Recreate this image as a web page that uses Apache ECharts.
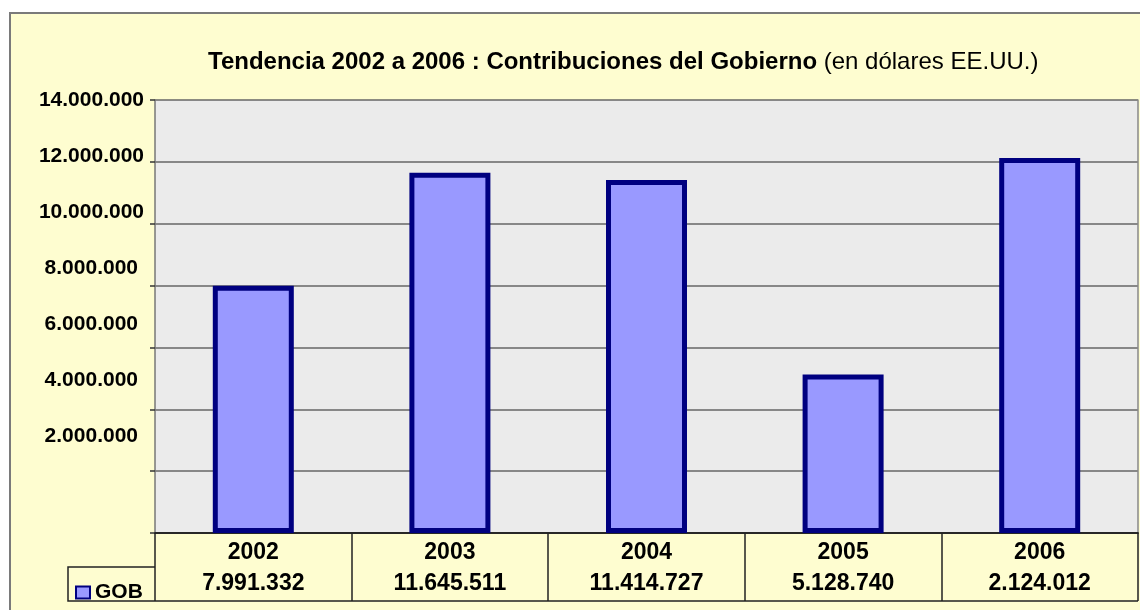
<!DOCTYPE html>
<html>
<head>
<meta charset="utf-8">
<script src="https://cdn.jsdelivr.net/npm/echarts@6/dist/echarts.min.js"></script>
<style>
  html, body { margin: 0; padding: 0; background: #fff; }
  #chart { width: 1140px; height: 610px; }
</style>
</head>
<body>
<div id="chart"></div>
<script>
const years = ['2002', '2003', '2004', '2005', '2006']
const gobValues = [7991332, 11645511, 11414727, 5128740, 12124012]
// texts printed in the data table (as in the original, incl. 2006)
const tableValues = ['7.991.332', '11.645.511', '11.414.727', '5.128.740', '2.124.012']
const yMax = 14000000
const yStep = 2000000

const fmt = v => String(v).replace(/\B(?=(\d{3})+(?!\d))/g, '.')
const font = 'Arial, "Liberation Sans", sans-serif'

const chart = echarts.init(document.getElementById('chart'))
chart.setOption({
  backgroundColor: '#ffffff',
  textStyle: { fontFamily: font },
  title: {
    text: '{b|Tendencia 2002 a 2006 : Contribuciones del Gobierno}{n| (en dólares EE.UU.)}',
    left: 203,
    top: 45,
    textStyle: {
      rich: {
        b: { fontFamily: font, fontWeight: 'bold', fontSize: 24, color: '#000' },
        n: { fontFamily: font, fontWeight: 'normal', fontSize: 24, color: '#000' }
      }
    }
  },
  graphic: [
    {
      type: 'rect', z: -10, silent: true,
      shape: { x: 10, y: 13, width: 1140, height: 610 },
      style: { fill: '#fefdd0', stroke: '#7a7a7a', lineWidth: 2 }
    },
    {
      type: 'polyline', z: 10, silent: true,
      shape: { points: [[155, 567], [68, 567], [68, 601], [1138, 601]] },
      style: { stroke: '#222', lineWidth: 1.5, fill: null }
    }
  ],
  legend: {
    left: 70,
    top: 577,
    itemWidth: 14,
    itemHeight: 12,
    itemGap: 5,
    icon: 'rect',
    itemStyle: { borderWidth: 2, borderColor: '#000080' },
    textStyle: { fontFamily: font, fontWeight: 'bold', fontSize: 21, color: '#000', padding: [5, 0, 0, 0] },
    data: ['GOB']
  },
  grid: [
    { left: 155, right: 2, top: 100, bottom: 77, show: true, backgroundColor: '#ebebeb', borderWidth: 0 },
    { left: 155, right: 2, top: 100, height: 392 }
  ],
  xAxis: [
    {
      type: 'category', gridIndex: 0, data: years,
      axisLine: { lineStyle: { color: '#222', width: 1.5 } },
      axisTick: { show: true, length: 68, lineStyle: { color: '#222', width: 1.5 } },
      axisLabel: { margin: 8, fontFamily: font, fontWeight: 'bold', fontSize: 23, color: '#000' }
    },
    {
      type: 'category', gridIndex: 0, data: tableValues, position: 'bottom', offset: 34,
      axisLine: { lineStyle: { color: '#222', width: 1.5 } },
      axisTick: { show: false },
      axisLabel: { margin: 5, fontFamily: font, fontWeight: 'bold', fontSize: 23, color: '#000' }
    },
    { type: 'category', gridIndex: 1, data: years, show: false }
  ],
  yAxis: [
    {
      type: 'value', gridIndex: 0, min: 0, max: yMax, interval: yStep,
      axisLine: { show: true, lineStyle: { color: '#777', width: 1.5 } },
      axisTick: { show: true, length: 5, lineStyle: { color: '#333', width: 1.5 } },
      axisLabel: { show: false },
      splitLine: { lineStyle: { color: '#666', width: 1.5 } }
    },
    {
      type: 'value', gridIndex: 0, position: 'right', min: 0, max: yMax, interval: yStep,
      axisLine: { show: true, lineStyle: { color: '#888', width: 1.5 } },
      axisTick: { show: false }, axisLabel: { show: false }, splitLine: { show: false }
    },
    {
      type: 'value', gridIndex: 1, min: 0, max: yMax, interval: yStep,
      axisLine: { show: false }, axisTick: { show: false }, splitLine: { show: false },
      axisLabel: {
        margin: 11,
        formatter: v => v === 0 ? '' : (v >= 10000000 ? '{a|' + fmt(v) + '}' : '{c|' + fmt(v) + '}'),
        rich: {
          a: { fontFamily: font, fontWeight: 'bold', fontSize: 21, color: '#000' },
          c: { fontFamily: font, fontWeight: 'bold', fontSize: 21, color: '#000', padding: [0, 6, 0, 0] }
        }
      }
    }
  ],
  series: [
    {
      name: 'GOB',
      type: 'bar',
      xAxisIndex: 0,
      yAxisIndex: 0,
      barWidth: 81,
      data: gobValues,
      itemStyle: { color: '#9999ff', borderColor: '#000080', borderWidth: 5 }
    }
  ]
})
</script>
</body>
</html>
